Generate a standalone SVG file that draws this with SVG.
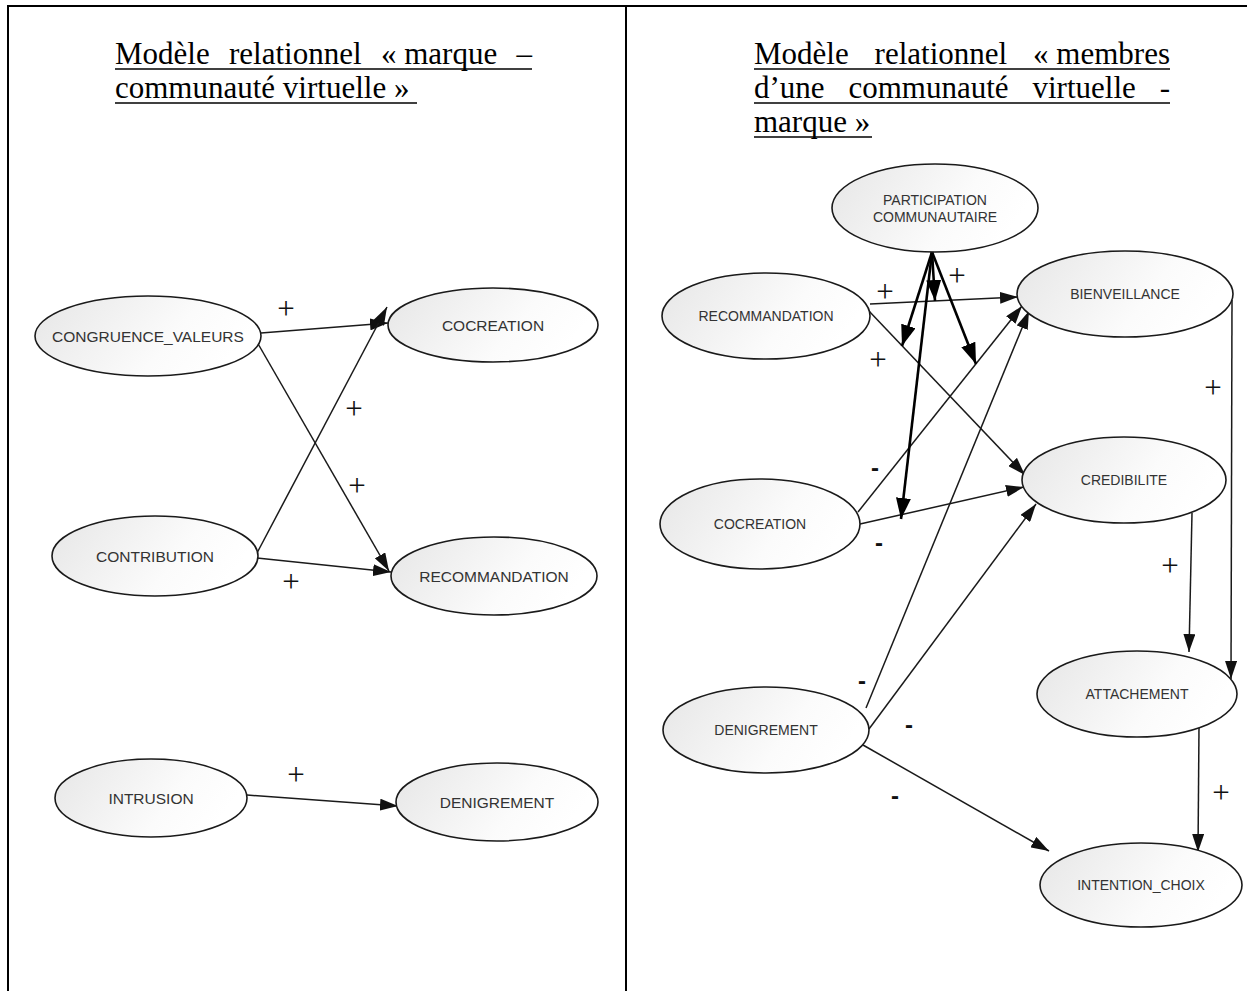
<svg xmlns="http://www.w3.org/2000/svg" width="1247" height="991" viewBox="0 0 1247 991">
  <defs>
    <linearGradient id="nodeFill" x1="0" y1="0" x2="1" y2="0.3">
      <stop offset="0" stop-color="#e6e6e6"/>
      <stop offset="0.7" stop-color="#fbfbfb"/>
      <stop offset="1" stop-color="#ffffff"/>
    </linearGradient>
    <marker id="arrow" viewBox="0 0 18 12" refX="18" refY="6" markerWidth="18" markerHeight="12" markerUnits="userSpaceOnUse" orient="auto">
      <path d="M0,0 L18,6 L0,12 z" fill="#111"/>
    </marker>
    <marker id="arrowBold" viewBox="0 0 21 15" refX="21" refY="7.5" markerWidth="21" markerHeight="15" markerUnits="userSpaceOnUse" orient="auto">
      <path d="M0,0 L21,7.5 L0,15 z" fill="#000"/>
    </marker>
  </defs>
  <style>
    .frame { stroke: #000; stroke-width: 2; fill: none; }
    .title { font-family: "Liberation Serif", "Times New Roman", serif; font-size: 31px; fill: #000; }
    .uline { stroke: #000; stroke-width: 1.6; }
    .node ellipse { fill: url(#nodeFill); stroke: #1a1a1a; stroke-width: 1.6; }
    .node text { font-family: "Liberation Sans", Arial, sans-serif; fill: #333; text-anchor: middle; }
    .left text { font-size: 15.5px; }
    .right text { font-size: 14px; }
    .edge { stroke: #1a1a1a; stroke-width: 1.5; fill: none; marker-end: url(#arrow); }
    .bold { stroke: #000; stroke-width: 2.6; fill: none; marker-end: url(#arrowBold); }
    .sign { font-family: "Liberation Serif", "Times New Roman", serif; font-size: 31px; fill: #111; text-anchor: middle; }
    .minus { font-family: "Liberation Sans", Arial, sans-serif; font-size: 24px; font-weight: bold; fill: #111; text-anchor: middle; }
  </style>

  <!-- table frame -->
  <g id="frame">
    <line class="frame" x1="7" y1="6" x2="1247" y2="6"/>
    <line class="frame" x1="8" y1="5" x2="8" y2="991"/>
    <line class="frame" x1="626" y1="6" x2="626" y2="991"/>
  </g>

  <!-- headings -->
  <g id="title-left">
    <text class="title" y="64"><tspan x="115">Modèle</tspan><tspan x="229">relationnel</tspan><tspan x="381">«&#160;marque</tspan><tspan x="516.5">–</tspan></text>
    <line class="uline" x1="115" y1="69" x2="532" y2="69"/>
    <text class="title" x="115" y="98">communauté virtuelle&#160;»</text>
    <line class="uline" x1="115" y1="103" x2="417" y2="103"/>
  </g>
  <g id="title-right">
    <text class="title" y="64"><tspan x="754">Modèle</tspan><tspan x="874.6">relationnel</tspan><tspan x="1033.1">«&#160;membres</tspan></text>
    <line class="uline" x1="754" y1="69" x2="1170" y2="69"/>
    <text class="title" y="98"><tspan x="754">d’une</tspan><tspan x="848.5">communauté</tspan><tspan x="1032.5">virtuelle</tspan><tspan x="1159.7">-</tspan></text>
    <line class="uline" x1="754" y1="103" x2="1170" y2="103"/>
    <text class="title" x="754" y="132">marque&#160;»</text>
    <line class="uline" x1="754" y1="137" x2="872" y2="137"/>
  </g>

  <!-- connectors -->
  <g id="connectors">
    <!-- left model -->
    <line class="edge" x1="261" y1="333" x2="388" y2="323"/>
    <line class="edge" x1="257" y1="553" x2="387" y2="307"/>
    <line class="edge" x1="257" y1="342" x2="389" y2="571"/>
    <line class="edge" x1="257" y1="558" x2="391" y2="572"/>
    <line class="edge" x1="247" y1="795" x2="398" y2="806"/>
    <!-- right model -->
    <line class="edge" x1="870" y1="304" x2="1018" y2="297"/>
    <line class="edge" x1="868" y1="310" x2="1025" y2="475"/>
    <line class="edge" x1="858" y1="512" x2="1022" y2="306"/>
    <line class="edge" x1="860" y1="524" x2="1024" y2="487"/>
    <line class="edge" x1="866" y1="708" x2="1029" y2="311"/>
    <line class="edge" x1="869" y1="729" x2="1036" y2="504"/>
    <line class="edge" x1="863" y1="745" x2="1049" y2="851"/>
    <line class="edge" x1="1232" y1="300" x2="1231" y2="679"/>
    <line class="edge" x1="1192" y1="513" x2="1189" y2="652"/>
    <line class="edge" x1="1199" y1="727" x2="1198" y2="852"/>
    <!-- moderating effects of community participation -->
    <line class="bold" x1="932" y1="252" x2="935" y2="301"/>
    <line class="bold" x1="932" y1="252" x2="902" y2="346"/>
    <line class="bold" x1="932" y1="252" x2="976" y2="364"/>
    <line class="bold" x1="932" y1="252" x2="901" y2="519"/>
  </g>

  <!-- edge signs -->
  <g id="signs">
    <text class="sign" x="286" y="319">+</text>
    <text class="sign" x="354" y="419">+</text>
    <text class="sign" x="357" y="496">+</text>
    <text class="sign" x="291" y="592">+</text>
    <text class="sign" x="296" y="785">+</text>
    <text class="sign" x="885" y="302">+</text>
    <text class="sign" x="957" y="286">+</text>
    <text class="sign" x="878" y="370">+</text>
    <text class="sign" x="1213" y="398">+</text>
    <text class="sign" x="1170" y="576">+</text>
    <text class="sign" x="1221" y="803">+</text>
    <text class="minus" x="875" y="476">-</text>
    <text class="minus" x="879" y="551">-</text>
    <text class="minus" x="862" y="689">-</text>
    <text class="minus" x="909" y="733">-</text>
    <text class="minus" x="895" y="804">-</text>
  </g>

  <!-- left model nodes -->
  <g id="l-congruence" class="node left"><ellipse cx="148" cy="336" rx="113" ry="40"/><text x="148" y="342">CONGRUENCE_VALEURS</text></g>
  <g id="l-cocreation" class="node left"><ellipse cx="493" cy="325" rx="105" ry="37"/><text x="493" y="331">COCREATION</text></g>
  <g id="l-contribution" class="node left"><ellipse cx="155" cy="556" rx="103" ry="40"/><text x="155" y="562">CONTRIBUTION</text></g>
  <g id="l-recommandation" class="node left"><ellipse cx="494" cy="576" rx="103" ry="39"/><text x="494" y="582">RECOMMANDATION</text></g>
  <g id="l-intrusion" class="node left"><ellipse cx="151" cy="798" rx="96" ry="39"/><text x="151" y="804">INTRUSION</text></g>
  <g id="l-denigrement" class="node left"><ellipse cx="497" cy="802" rx="101" ry="39"/><text x="497" y="808">DENIGREMENT</text></g>

  <!-- right model nodes -->
  <g id="r-participation" class="node right"><ellipse cx="935" cy="208" rx="103" ry="44"/><text x="935" y="205">PARTICIPATION</text><text x="935" y="222">COMMUNAUTAIRE</text></g>
  <g id="r-recommandation" class="node right"><ellipse cx="766" cy="316" rx="104" ry="43"/><text x="766" y="321">RECOMMANDATION</text></g>
  <g id="r-bienveillance" class="node right"><ellipse cx="1125" cy="294" rx="108" ry="43"/><text x="1125" y="299">BIENVEILLANCE</text></g>
  <g id="r-cocreation" class="node right"><ellipse cx="760" cy="524" rx="100" ry="45"/><text x="760" y="529">COCREATION</text></g>
  <g id="r-credibilite" class="node right"><ellipse cx="1124" cy="480" rx="102" ry="43"/><text x="1124" y="485">CREDIBILITE</text></g>
  <g id="r-denigrement" class="node right"><ellipse cx="766" cy="730" rx="103" ry="43"/><text x="766" y="735">DENIGREMENT</text></g>
  <g id="r-attachement" class="node right"><ellipse cx="1137" cy="694" rx="100" ry="43"/><text x="1137" y="699">ATTACHEMENT</text></g>
  <g id="r-intention" class="node right"><ellipse cx="1141" cy="885" rx="101" ry="42"/><text x="1141" y="890">INTENTION_CHOIX</text></g>
</svg>
